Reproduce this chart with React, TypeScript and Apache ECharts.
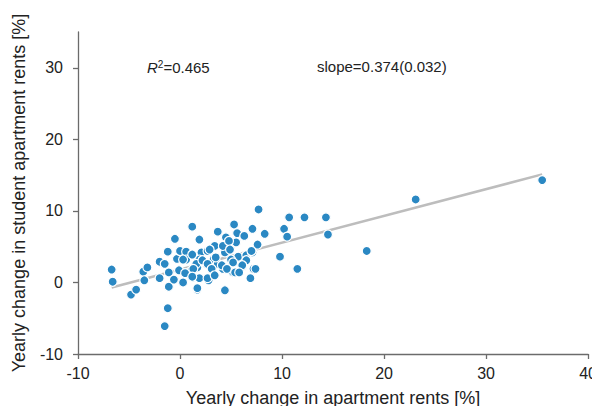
import React, { useEffect, useRef } from 'react';
import * as echarts from 'echarts';

// yearly change in apartment rents [%]
const rentX = [
  -6.7, -6.6, -4.8, -4.3, -3.6, -3.2, -3.5, -2.0, -2.0, -1.2, -0.5, -1.1, -1.1, -1.2, -1.5, -1.5, -0.6, -0.3, 0.0, 0.6,
  0.6, 0.3, 1.2, 1.9, -0.1, 1.0, 1.3, 1.7, 1.7, 2.1, 2.7, 1.9, 2.6, 2.8, 3.7, 3.4, 3.3, 3.7, 4.5, 4.4,
  4.6, 4.2, 4.4, 5.3, 5.6, 6.3, 5.5, 5.2, 5.2, 5.7, 6.5, 6.1, 7.2, 6.9, 7.1, 7.6, 7.7, 8.3, 9.8, 10.2,
  10.7, 10.5, 12.2, 14.3, 14.5, 11.5, 18.3, 23.1, 35.5, 7.1, 4.2, 1.2, 2.9, 3.5, 5.0, 7.0, 6.5, 0.3, 1.6, 2.2,
  2.7, 4.1, 5.2, 6.1, 0.5, 1.3, 1.9, 1.2, 4.6, 5.4, 2.7, 5.8, 7.4, 1.7, 4.8, 3.1, 3.4, 4.9,
];
// yearly change in student apartment rents [%]
const studentY = [
  1.8, 0.1, -1.7, -1.0, 1.5, 2.1, 0.3, 0.6, 2.9, 4.3, 6.1, 1.4, -0.6, -3.6, -6.1, 2.6, 0.4, 3.3, 4.4, 4.3,
  3.2, 0.0, 7.8, 6.0, 1.7, 1.5, 0.7, 2.1, -1.0, 4.2, 4.4, 3.2, 2.6, 0.3, 7.1, 5.1, 3.3, 2.6, 6.3, 4.2,
  5.4, 1.9, -1.1, 8.1, 6.9, 6.5, 5.6, 3.1, 1.4, 3.6, 3.8, 2.2, 1.9, 0.6, 7.5, 5.3, 10.2, 6.8, 3.6, 7.5,
  9.1, 6.4, 9.1, 9.1, 6.7, 1.9, 4.4, 11.6, 14.3, 4.2, 5.1, 3.9, 4.6, 3.5, 3.2, 4.4, 3.1, 3.2, 2.6, 3.1,
  2.6, 2.4, 2.8, 2.4, 1.3, 1.9, 0.6, 0.8, 1.9, 1.4, 0.6, 1.4, 1.9, -0.8, 5.8, 1.9, 1.0, 4.6,
];

// fitted line end points
const fitX = [-6.7, 35.5];
const fitY = [-0.7, 15.1];

const xTicks = [-10, 0, 10, 20, 30, 40];
const yTicks = [-10, 0, 10, 20, 30];

const FONT = '"Liberation Sans", Arial, sans-serif';

const App: React.FC = () => {
  const chartRef = useRef<HTMLDivElement>(null);

  useEffect(() => {
    if (!chartRef.current) return;
    const chart = echarts.init(chartRef.current, null, { renderer: 'svg' });

    const axisCommon = {
      type: 'value' as const,
      splitLine: { show: false },
      axisLine: { show: true, onZero: false, lineStyle: { color: '#6b6b6b', width: 1.3 } },
      axisTick: { show: true, length: 5, lineStyle: { color: '#6b6b6b', width: 1.3 } },
      axisLabel: { color: '#222', fontSize: 16, fontFamily: FONT },
      nameTextStyle: { color: '#222', fontSize: 18, fontFamily: FONT },
      nameLocation: 'middle' as const,
    };

    chart.setOption({
      animation: false,
      grid: { left: 78, right: 11, top: 32, bottom: 60 },
      xAxis: {
        ...axisCommon,
        min: -10,
        max: 40,
        interval: 10,
        name: 'Yearly change in apartment rents [%]',
        nameGap: 35,
        axisTick: { ...axisCommon.axisTick, customValues: xTicks },
        axisLabel: { ...axisCommon.axisLabel, customValues: xTicks, margin: 11 },
      },
      yAxis: {
        ...axisCommon,
        min: -10,
        max: 35,
        interval: 10,
        name: 'Yearly change in student apartment rents [%]',
        nameGap: 50,
        axisTick: { ...axisCommon.axisTick, customValues: yTicks },
        axisLabel: { ...axisCommon.axisLabel, customValues: yTicks, margin: 15 },
      },
      graphic: [
        {
          type: 'text',
          left: 147,
          top: 59,
          style: {
            text: '{i|R}{s|2}{n|=0.465}',
            rich: {
              i: { fontStyle: 'italic', fontSize: 15, fontFamily: FONT, fill: '#222' },
              s: { fontSize: 10, fontFamily: FONT, fill: '#222', verticalAlign: 'top', padding: [0, 0, 7, 0] },
              n: { fontSize: 15, fontFamily: FONT, fill: '#222' },
            },
          },
        },
        {
          type: 'text',
          left: 317,
          top: 59,
          style: { text: 'slope=0.374(0.032)', fontSize: 15, fontFamily: FONT, fill: '#222' },
        },
      ],
      series: [
        {
          type: 'line',
          data: fitX.map((x, i) => [x, fitY[i]]),
          symbol: 'none',
          lineStyle: { color: '#bdbdbd', width: 2.5 },
          z: 1,
        },
        {
          type: 'scatter',
          data: rentX.map((x, i) => [x, studentY[i]]),
          symbolSize: 9,
          itemStyle: { color: '#2a88c3', borderColor: '#fff', borderWidth: 1.2, opacity: 1 },
          z: 2,
        },
      ],
    });

    return () => chart.dispose();
  }, []);

  return <div ref={chartRef} style={{ width: 600, height: 414, margin: -8 }} />;
};

export default App;
